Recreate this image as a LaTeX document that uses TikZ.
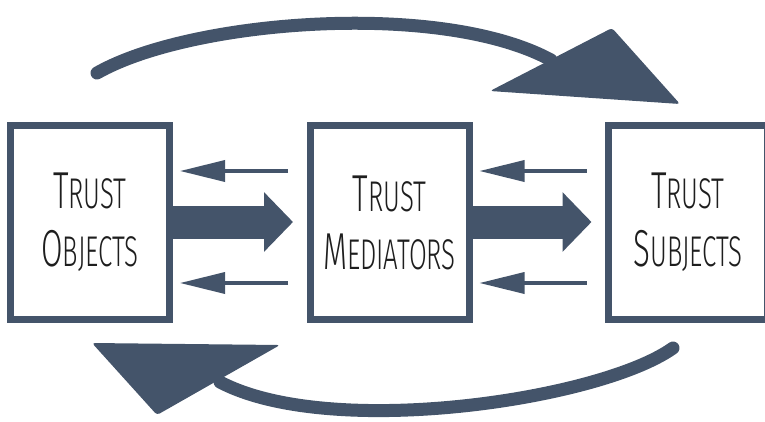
\documentclass[tikz,border=0pt]{standalone}
\usepackage{fontspec}
\setmainfont{Fira Sans Light}[FakeStretch=0.6]
\usepackage{tikz}
\usetikzlibrary{arrows.meta}
\definecolor{slate}{RGB}{68,84,106}
\definecolor{ink}{RGB}{30,30,30}
% big first letter, smaller rest
\newcommand{\capword}[2]{{\fontsize{52}{58}\selectfont #1}{\fontsize{43}{58}\selectfont #2}}

\begin{document}
\begin{tikzpicture}[x=1pt, y=-1pt,
  box/.style={draw=slate, line width=7pt, minimum width=159pt, minimum height=194pt,
    align=center, text=ink, font=\fontsize{52}{58}\selectfont},
  feed/.style={slate, line width=3.5pt, -{Triangle[length=45pt,width=21pt]},
    shorten >=7pt, shorten <=18.5pt},
  flow/.style={slate, line width=33pt, -{Triangle[length=29pt,width=58pt]}, shorten >=13.5pt},
  swing/.style={slate, line width=13pt, line cap=round},
  head/.style={fill=slate, rounded corners=3pt}]
  \useasboundingbox (0,0) rectangle (765,421);
  \clip (0,0) rectangle (765,421);
  \node[box] (obj) at (90,222.5) {\capword{T}{RUST}\\\capword{O}{BJECTS}};
  \node[box] (med) at (389.5,222.5) {\capword{T}{RUST}\\\capword{M}{EDIATORS}};
  \node[box] (sub) at (688,222.5) {\capword{T}{RUST}\\\capword{S}{UBJECTS}};
  % flow forward, feedback backward
  \foreach \a/\b in {obj/med, med/sub} {
    \draw[feed] ([yshift=51.5pt]\b.west) -- ([yshift=51.5pt]\a.east);
    \draw[feed] ([yshift=-60.5pt]\b.west) -- ([yshift=-60.5pt]\a.east);
    \draw[flow] ([yshift=0.5pt]\a.east) -- ([yshift=0.5pt]\b.west);
  }
  % loop over the top
  \coordinate (topTail) at (97,73);
  \coordinate (topEnd) at (551,60);
  \draw[swing] (topTail) .. controls (190,20) and (440,0) .. (topEnd);
  \fill[head] (490,91) -- (612,28) -- (680,104) -- cycle;
  % loop back underneath
  \coordinate (lowTail) at (673,348);
  \coordinate (lowEnd) at (220,382);
  \draw[swing] (lowTail) .. controls (600,400) and (330,440) .. (lowEnd);
  \fill[head] (92,343) -- (280,345) -- (157,415) -- cycle;
\end{tikzpicture}
\end{document}
